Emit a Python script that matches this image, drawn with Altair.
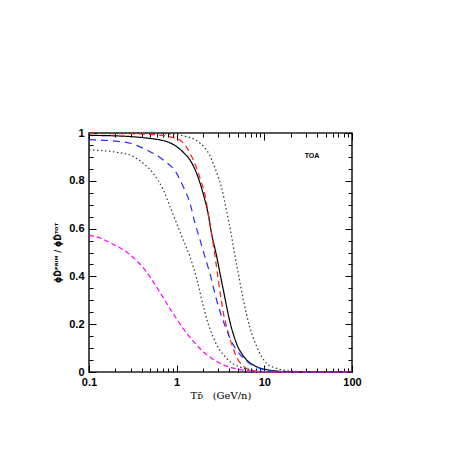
import altair as alt
import pandas as pd

# ---- data ----
solid_x = [0.1, 0.2, 0.3, 0.5, 0.645, 0.8, 1.0, 1.2, 1.42, 1.69, 2.0, 2.28, 2.5, 2.86, 3.12, 3.4, 3.72, 4.05, 4.4, 5.0, 5.5, 6.3, 7.5, 9.0, 10.6, 13, 20, 40, 100]
solid_y = [0.99, 0.988, 0.985, 0.977, 0.971, 0.962, 0.943, 0.918, 0.887, 0.831, 0.748, 0.664, 0.58, 0.484, 0.413, 0.345, 0.273, 0.21, 0.162, 0.105, 0.078, 0.05, 0.029, 0.016, 0.01, 0.005, 0.001, 0.0, 0.0]

red_x = [0.1, 0.3, 0.6, 0.84, 1.09, 1.42, 1.62, 1.85, 2.1, 2.4, 2.73, 2.97, 3.2, 3.4, 3.7, 4.04, 4.4, 4.8, 5.3, 5.7, 6.5, 8.0, 10, 20, 100]
red_y = [0.998, 0.997, 0.992, 0.984, 0.971, 0.915, 0.87, 0.81, 0.742, 0.616, 0.49, 0.39, 0.31, 0.25, 0.19, 0.14, 0.10, 0.064, 0.038, 0.025, 0.012, 0.004, 0.001, 0.0, 0.0]

blue_x = [0.1, 0.2, 0.294, 0.454, 0.703, 1.0, 1.19, 1.42, 1.62, 1.85, 2.1, 2.39, 2.86, 3.54, 4.4, 5.7, 8.2, 12, 20, 100]
blue_y = [0.972, 0.966, 0.957, 0.929, 0.887, 0.831, 0.775, 0.706, 0.622, 0.552, 0.482, 0.413, 0.30, 0.195, 0.115, 0.06, 0.02, 0.005, 0.001, 0.0]

dotup_x = [0.1, 0.5, 1.0, 1.3, 1.62, 2.1, 2.4, 2.73, 3.26, 3.72, 4.2, 4.6, 5.0, 5.7, 6.8, 8.2, 10.6, 13.9, 20, 40, 100]
dotup_y = [1.0, 0.999, 0.993, 0.985, 0.972, 0.937, 0.905, 0.854, 0.77, 0.672, 0.574, 0.49, 0.42, 0.31, 0.19, 0.106, 0.036, 0.015, 0.004, 0.0, 0.0]

dotlo_x = [0.1, 0.2, 0.294, 0.416, 0.541, 0.703, 0.84, 1.0, 1.19, 1.42, 1.69, 2.0, 2.3, 2.6, 3.0, 3.4, 4.0, 4.8, 6.8, 10, 20, 100]
dotlo_y = [0.93, 0.92, 0.908, 0.873, 0.831, 0.762, 0.692, 0.622, 0.552, 0.482, 0.39, 0.28, 0.2, 0.148, 0.1, 0.073, 0.045, 0.027, 0.01, 0.003, 0.0, 0.0]

mag_x = [0.1, 0.14, 0.18, 0.28, 0.435, 0.62, 0.86, 1.22, 1.77, 2.0, 2.5, 3.4, 5.7, 10, 20, 100]
mag_y = [0.573, 0.558, 0.538, 0.497, 0.427, 0.343, 0.259, 0.176, 0.105, 0.085, 0.058, 0.03, 0.008, 0.001, 0.0, 0.0]

series_names = ["solid", "red", "blue", "dotup", "dotlo", "mag"]
series_colors = ["#000000", "#ff1a1a", "#2a2aff", "#333333", "#333333", "#ff00ff"]
series_dash = [[1, 0], [6, 4], [7, 5], [1.5, 2.5], [1.5, 2.5], [5, 3]]

x_major = [0.1, 1, 10, 100]
x_minor = [m * d for d in [0.1, 1, 10] for m in range(2, 10)]
y_major = [0, 0.2, 0.4, 0.6, 0.8, 1.0]
y_minor = [round(0.05 * i, 2) for i in range(21) if i % 4 != 0]

label_text = ["TOA"]
label_x = [35]
label_y = [0.905]

rows = []
for name, xs, ys in zip(series_names,
                        [solid_x, red_x, blue_x, dotup_x, dotlo_x, mag_x],
                        [solid_y, red_y, blue_y, dotup_y, dotlo_y, mag_y]):
    for i, (a, b) in enumerate(zip(xs, ys)):
        rows.append({"series": name, "x": a, "y": b, "order": i})
df = pd.DataFrame(rows)

W, H = 263, 239
xscale = alt.Scale(type="log", domain=[0.1, 100], nice=False)
yscale = alt.Scale(domain=[0, 1], nice=False)

FONT = "Liberation Sans"

main = alt.Chart(df).mark_line(strokeWidth=1.2, interpolate="monotone").encode(
    x=alt.X("x:Q", scale=xscale,
            axis=alt.Axis(values=x_major, format="~g", ticks=False, domain=False, grid=False,
                          labelFont=FONT, labelFontSize=11, labelFontWeight="bold", labelPadding=4,
                          labelColor="black", labelFlush=False,
                          title="T\u1D05\u0304\u00a0\u00a0\u00a0(GeV/n)", titleFont="DejaVu Serif",
                          titleFontSize=10, titleFontWeight="normal", titlePadding=3, titleColor="black")),
    y=alt.Y("y:Q", scale=yscale,
            axis=alt.Axis(values=y_major, format=".1~f", ticks=False, domain=False, grid=False,
                          labelFont=FONT, labelFontSize=11, labelFontWeight="bold", labelPadding=5,
                          labelColor="black",
                          title="\u03D5D\u0304\u1D3E\u1D3F\u1D35\u1D39 / \u03D5D\u0304\u1D40\u1D3C\u1D40",
                          titleFont="DejaVu Sans", titleFontSize=8, titleFontWeight="bold",
                          titlePadding=6, titleColor="black")),
    color=alt.Color("series:N", scale=alt.Scale(domain=series_names, range=series_colors), legend=None),
    strokeDash=alt.StrokeDash("series:N", scale=alt.Scale(domain=series_names, range=series_dash), legend=None),
    order="order:Q",
)


def tick_layer(xorient, yorient, xvals, yvals, size):
    return alt.Chart(df).mark_point(opacity=0).encode(
        x=alt.X("x:Q", scale=xscale,
                axis=alt.Axis(orient=xorient, offset=-H, values=xvals, labels=False, domain=False,
                              grid=False, tickSize=size, tickColor="black", tickWidth=1, title=None)),
        y=alt.Y("y:Q", scale=yscale,
                axis=alt.Axis(orient=yorient, offset=-W, values=yvals, labels=False, domain=False,
                              grid=False, tickSize=size, tickColor="black", tickWidth=1, title=None)),
    )


ticks = [
    tick_layer("top", "right", x_major, y_major, 7),
    tick_layer("top", "right", x_minor, y_minor, 4),
    tick_layer("bottom", "left", x_major, y_major, 7),
    tick_layer("bottom", "left", x_minor, y_minor, 4),
]

lab_df = pd.DataFrame({"t": label_text, "x": label_x, "y": label_y})
toa = alt.Chart(lab_df).mark_text(font=FONT, fontSize=7, fontWeight="bold", color="black").encode(
    x=alt.X("x:Q", scale=xscale, axis=None),
    y=alt.Y("y:Q", scale=yscale, axis=None),
    text="t:N",
)

chart = alt.layer(main, *ticks, toa).resolve_axis(x="independent", y="independent").properties(
    width=W, height=H,
    autosize=alt.AutoSizeParams(type="none"),
    padding={"left": 81, "top": 125, "right": 97, "bottom": 77},
).configure_view(stroke="#222222", strokeWidth=1.6)

chart.save("out.html", embed_options={"renderer": "svg", "actions": False})
